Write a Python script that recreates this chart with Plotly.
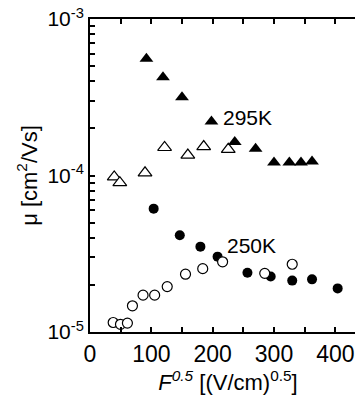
import plotly.graph_objects as go

# 295K, high field (filled triangles)
x_295_filled = [92, 119, 150, 198, 236, 270, 300, 325, 344, 362]
y_295_filled = [5.57e-4, 4.24e-4, 3.16e-4, 2.21e-4, 1.64e-4, 1.48e-4, 1.21e-4, 1.21e-4, 1.21e-4, 1.23e-4]

# 295K, low field (open triangles)
x_295_open = [39.5, 48.6, 89.7, 121.6, 159.5, 185.4, 225.4]
y_295_open = [9.8e-5, 9.0e-5, 1.04e-4, 1.51e-4, 1.35e-4, 1.53e-4, 1.47e-4]

# 250K, high field (filled circles)
x_250_filled = [103.8, 146.4, 180, 208, 256.7, 294.6, 329.7, 362, 403.8]
y_250_filled = [6.14e-5, 4.15e-5, 3.51e-5, 3.03e-5, 2.39e-5, 2.26e-5, 2.13e-5, 2.17e-5, 1.90e-5]

# 250K, low field (open circles)
x_250_open = [37.8, 49.7, 61, 69.2, 86.5, 105.4, 125.9, 155.7, 183.8, 216.2, 284.9, 329.7]
y_250_open = [1.15e-5, 1.12e-5, 1.14e-5, 1.47e-5, 1.72e-5, 1.72e-5, 1.95e-5, 2.34e-5, 2.54e-5, 2.81e-5, 2.37e-5, 2.71e-5]

# axes
x_range = [0, 450]
y_range_log = [-5, -3]
x_tickvals = [0, 50, 100, 150, 200, 250, 300, 350, 400, 450]
x_ticktext = ["0", "", "100", "", "200", "", "300", "", "400", ""]
y_major = [1e-5, 1e-4, 1e-3]
y_major_text = ["10<sup>-5</sup>", "10<sup>-4</sup>", "10<sup>-3</sup>"]
y_minor = [m * 10.0 ** e for e in (-5, -4) for m in range(2, 10)]
y_tickvals = y_major + y_minor
y_ticktext = y_major_text + [""] * len(y_minor)

FONT = "Liberation Sans, Arial, sans-serif"
NARROW = "Liberation Sans Narrow, Arial Narrow, Liberation Sans, Arial, sans-serif"

W, H = 363, 395
M = dict(l=82, r=5, t=11, b=71)

fig = go.Figure()
fig.add_trace(go.Scatter(x=x_250_filled, y=y_250_filled, mode="markers",
                         marker=dict(symbol="circle", size=10, color="black",
                                     line=dict(width=0))))
fig.add_trace(go.Scatter(x=x_250_open, y=y_250_open, mode="markers",
                         marker=dict(symbol="circle", size=10, color="white",
                                     line=dict(width=1.2, color="black"))))
fig.add_trace(go.Scatter(x=x_295_open, y=y_295_open, mode="markers",
                         marker=dict(symbol="triangle-up", size=12, color="white",
                                     line=dict(width=1.2, color="black"))))
fig.add_trace(go.Scatter(x=x_295_filled, y=y_295_filled, mode="markers",
                         marker=dict(symbol="triangle-up", size=12, color="black",
                                     line=dict(width=0))))

# the page body has an 8px margin, so the figure is offset by 8px
fig.update_layout(
    template="none",
    width=W, height=H,
    margin=dict(M, autoexpand=False),
    paper_bgcolor="white", plot_bgcolor="white",
    showlegend=False,
    font=dict(family=FONT, size=20, color="black"),
)
fig.add_annotation(x=257, y=-3.63, xref="x", yref="y", text="295K", showarrow=False,
                   font=dict(family=FONT, size=21, color="black"))
fig.add_annotation(x=263, y=-4.45, xref="x", yref="y", text="250K", showarrow=False,
                   font=dict(family=FONT, size=21, color="black"))

fig.update_xaxes(
    range=x_range, showgrid=False, zeroline=False, automargin=False,
    showline=True, linecolor="black", linewidth=2, mirror="ticks",
    ticks="inside", ticklen=5, tickwidth=1.5, tickcolor="black",
    tickmode="array", tickvals=x_tickvals, ticktext=x_ticktext,
    ticklabeloverflow="allow",
    tickfont=dict(family=NARROW, size=23),
    title=dict(text="<i>F</i><sup><i>0.5</i></sup> [(V/cm)<sup>0.5</sup>]",
               font=dict(family=FONT, size=22), standoff=4),
)
fig.update_yaxes(
    type="log", range=y_range_log, showgrid=False, zeroline=False, automargin=False,
    showline=True, linecolor="black", linewidth=2, mirror="ticks",
    ticks="inside", ticklen=5, tickwidth=1.5, tickcolor="black",
    tickmode="array", tickvals=y_tickvals, ticktext=y_ticktext,
    ticklabeloverflow="allow",
    tickfont=dict(family=NARROW, size=21),
    title=dict(text="μ [cm<sup>2</sup>/Vs]", font=dict(family=FONT, size=22), standoff=4),
)

fig.write_html("out.html")
